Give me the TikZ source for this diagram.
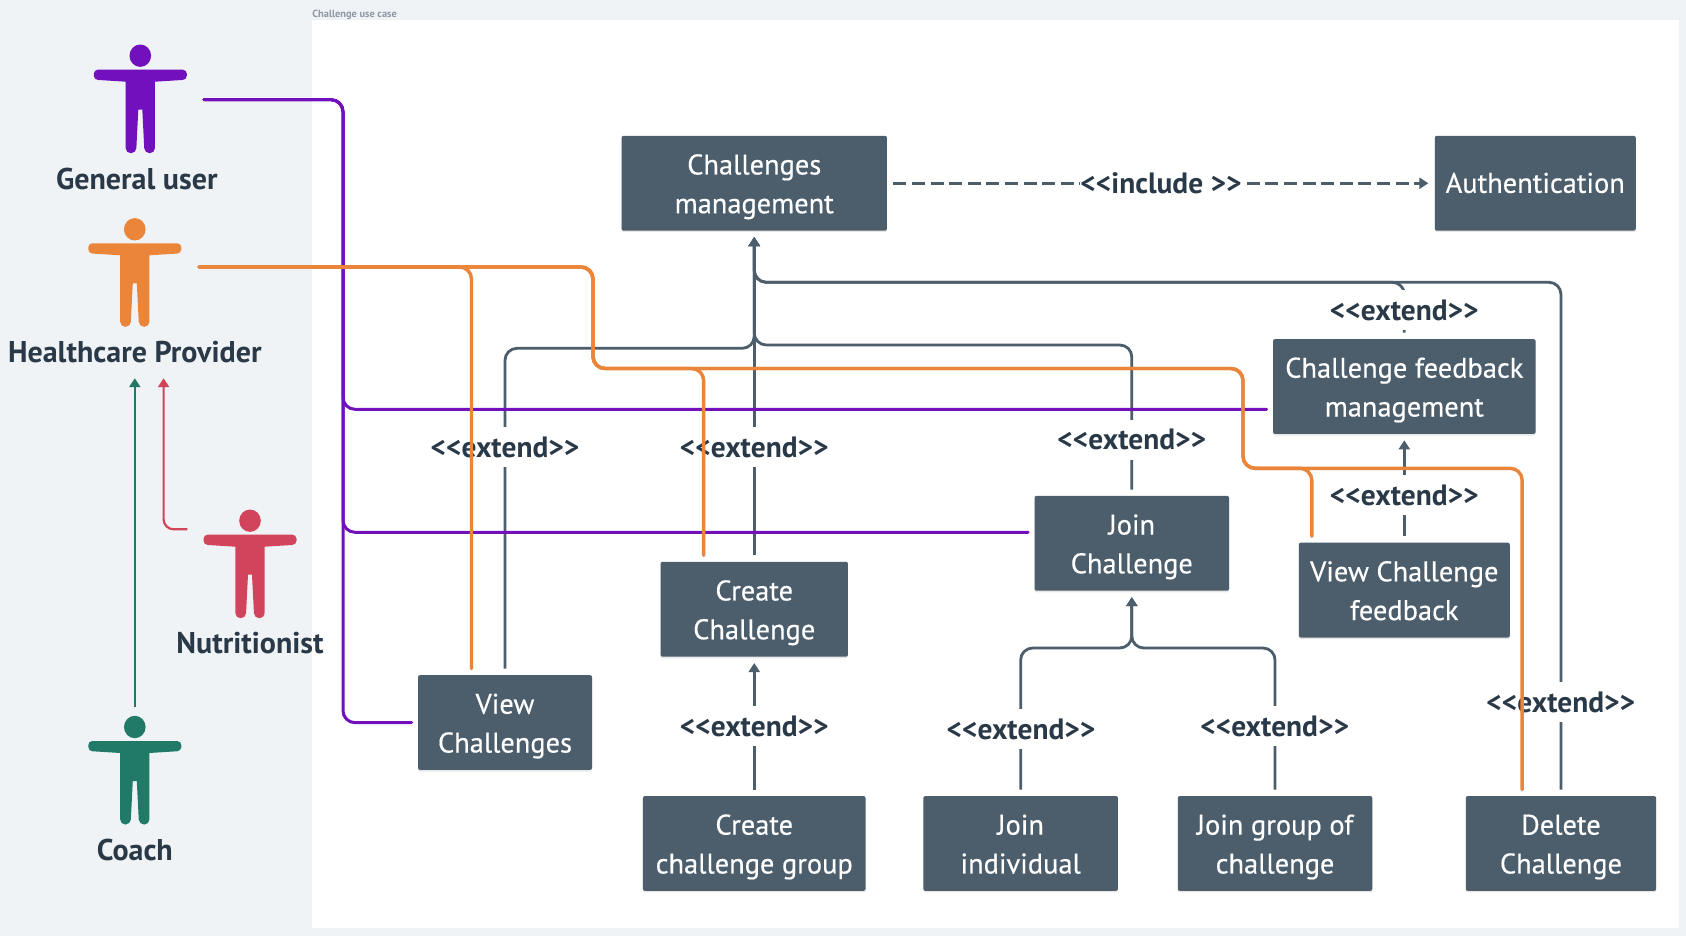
\documentclass[tikz,border=0pt]{standalone}
\usepackage{fontspec}
\setmainfont{PT Sans}
\newfontfamily\casefont[FakeBold=0.4]{PT Sans}
\usepackage{xcolor}
\usetikzlibrary{positioning,arrows.meta,shadows}

\definecolor{pagebg}{HTML}{F0F3F6}
\definecolor{boxfill}{HTML}{4C5D6C}
\definecolor{inktext}{HTML}{2A3947}
\definecolor{generalcol}{HTML}{7210BE}
\definecolor{healthcol}{HTML}{EA853A}
\definecolor{nutricol}{HTML}{D2445C}
\definecolor{coachcol}{HTML}{217A67}
\definecolor{titlecol}{HTML}{8C98A6}

\newcommand{\extendtxt}{<{}<extend>{}>}

\tikzset{
    usecase/.style={draw=none,fill=boxfill,text=white,align=center,rounded corners=1pt,inner sep=0pt,
        minimum height=47.4pt,font=\casefont\fontsize{14.2}{19.4}\selectfont,
        text height=38.7pt,text depth=8.7pt,
        drop shadow={shadow xshift=0pt,shadow yshift=-0.8pt,opacity=.18}},
    extendlbl/.style={fill=white,text=inktext,inner xsep=1pt,inner ysep=0pt,minimum height=20pt,
        font=\fontsize{14.7}{16}\selectfont\bfseries},
    actorlbl/.style={text=inktext,inner sep=0pt,font=\fontsize{15}{16}\selectfont\bfseries},
    greyline/.style={draw=boxfill,line width=1.4pt,rounded corners=6pt,shorten <=3pt,shorten >=3pt},
    greyarrow/.style={greyline,-{Triangle[width=5.5pt,length=4.5pt]}},
    purpleline/.style={draw=generalcol,line width=1.5pt,rounded corners=6pt,line cap=round,shorten >=3pt},
    orangeline/.style={draw=healthcol,line width=1.7pt,rounded corners=6pt,line cap=round,shorten >=3pt},
    pics/person/.style={code={
        \fill[#1] (0,0) ellipse [x radius=5.4pt,y radius=5.6pt];
        \fill[#1,rounded corners=2pt] (-46.5,14) -- (46.5,14) -- (46.5,24) [sharp corners] -- (14.6,26)
            [rounded corners=2.5pt] -- (14.6,97.5) -- (4.2,97.5) [sharp corners] -- (2,54) -- (-2,54)
            [rounded corners=2.5pt] -- (-4.2,97.5) -- (-14.6,97.5) [sharp corners] -- (-14.6,26)
            [rounded corners=2pt] -- (-46.5,24) -- cycle;
        \coordinate (-top) at (0,-20);
    }}
}

\begin{document}
\begin{tikzpicture}[x=0.5pt,y=-0.5pt]
    \fill[pagebg] (0,0) rectangle (1686,936);
    \fill[white] (311.5,20) rectangle (1679,928);
    \useasboundingbox (0,0) rectangle (1686,936);
    \node[anchor=west,inner sep=0pt,text=titlecol,font=\fontsize{5.2}{6}\selectfont\bfseries] (title) at (312,14.5) {Challenge use case};

    % actors
    \pic (gen) at (140.3,55.7) {person=generalcol};
    \pic (hcp) at (134.8,229.3) {person=healthcol};
    \pic (nut) at (250,520.7) {person=nutricol};
    \pic (cch) at (134.8,727) {person=coachcol};
    \node[actorlbl] (genlbl) at (136.8,179) {General user};
    \node[actorlbl] (hcplbl) at (134.8,352.3) {Healthcare Provider};
    \node[actorlbl] (nutlbl) at (250,643) {Nutritionist};
    \node[actorlbl] (cchlbl) at (134.8,850) {Coach};
    \coordinate (genout) at (204,99.7);
    \coordinate (hcpout) at (199,267);
    \coordinate (nutout) at (187.4,529.3);
    \coordinate (nutup) at (163.6,450);

    % use cases
    \node[usecase,minimum width=132.7pt] (mgmt) at (754.25,183.25) {Challenges\\management};
    \node[usecase,minimum width=100.5pt,text height=13pt,text depth=3.4pt,right = 273.5pt of mgmt] (auth) {Authentication};
    \node[usecase,minimum width=93.7pt,below = 165.2pt of mgmt] (create) {Create\\Challenge};
    \node[usecase,minimum width=111.3pt,below = 69.3pt of create] (group) {Create\\challenge group};
    \node[usecase,minimum width=97.3pt,right = 28.5pt of group] (joinind) {Join\\individual};
    \node[usecase,minimum width=97.3pt,right = 29.5pt of joinind] (joingrp) {Join group of\\challenge};
    \node[usecase,minimum width=95.2pt,right = 46.3pt of joingrp] (del) {Delete\\Challenge};
    \node[usecase,minimum width=87pt] (view) at (505,722.5) {View\\Challenges};
    \node[usecase,minimum width=97.3pt] (join) at (1131.8,543.3) {Join\\Challenge};
    \node[usecase,minimum width=131.3pt] (fbmgmt) at (1404.3,386.5) {Challenge feedback\\management};
    \node[usecase,minimum width=105.5pt,below = 54pt of fbmgmt] (viewfb) {View Challenge\\feedback};

    % extend and include links
    \draw[greyarrow] (view.north) |- (754.25,348.3) -- (mgmt.south);
    \draw[greyarrow] (create.north) -- (mgmt.south);
    \draw[greyarrow] (join.north) |- (754.25,345) -- (mgmt.south);
    \draw[greyarrow] (del.north) |- (754.25,282.3) -- (mgmt.south);
    \draw[greyarrow] (fbmgmt.north) |- (754.25,282.3) -- (mgmt.south);
    \draw[greyarrow] (viewfb.north) -- (fbmgmt.south);
    \draw[greyarrow] (group.north) -- (create.south);
    \draw[greyarrow] (joinind.north) |- (1131.8,648) -- (join.south);
    \draw[greyarrow] (joingrp.north) |- (1131.8,648) -- (join.south);
    \draw[greyarrow,rounded corners=0pt,dash pattern=on 6.5pt off 2.8pt] (mgmt.east) -- (auth.west);

    \node[extendlbl] (lblview) at (505,447) {\extendtxt};
    \node[extendlbl] (lblcreate) at (754.25,447) {\extendtxt};
    \node[extendlbl] (lbljoin) at (1131.8,439.8) {\extendtxt};
    \node[extendlbl] (lbldel) at (1560.8,702) {\extendtxt};
    \node[extendlbl] (lblfb) at (1404.3,310) {\extendtxt};
    \node[extendlbl] (lblviewfb) at (1404.3,495) {\extendtxt};
    \node[extendlbl] (lblgroup) at (754.25,726) {\extendtxt};
    \node[extendlbl] (lblind) at (1021,729) {\extendtxt};
    \node[extendlbl] (lblgrp) at (1274.7,726) {\extendtxt};
    \node[extendlbl,inner xsep=0pt] (lblinc) at (1161,183.25) {<{}<include >{}>};

    % actor links
    \draw[purpleline] (genout) -| (343,409.3) -- ([yshift=-11.4pt]fbmgmt.west);
    \draw[purpleline] (genout) -| (343,532.3) -- ([yshift=5.5pt]join.west);
    \draw[purpleline] (genout) -| (343,722.7) -- (view.west);
    \draw[orangeline] (hcpout) -| ([xshift=-16.75pt]view.north);
    \draw[orangeline] (hcpout) -| (593,368.5) -| ([xshift=-25.3pt]create.north);
    \draw[orangeline] (hcpout) -| (593,368.5) -| (1243,468.3) -| ([xshift=-46.25pt]viewfb.north);
    \draw[orangeline] (hcpout) -| (593,368.5) -| (1243,468.3) -| ([xshift=-19.4pt]del.north);
    \draw[draw=coachcol,line width=1.1pt,-{Triangle[width=5.5pt,length=4.5pt]},shorten >=7.3pt] (cch-top) -- (cch-top |- hcplbl.south);
    \draw[draw=nutricol,line width=1.1pt,rounded corners=5pt,-{Triangle[width=5.5pt,length=4.5pt]},shorten >=7.3pt] (nutout) -| (nutup) -- (nutup |- hcplbl.south);
\end{tikzpicture}
\end{document}
